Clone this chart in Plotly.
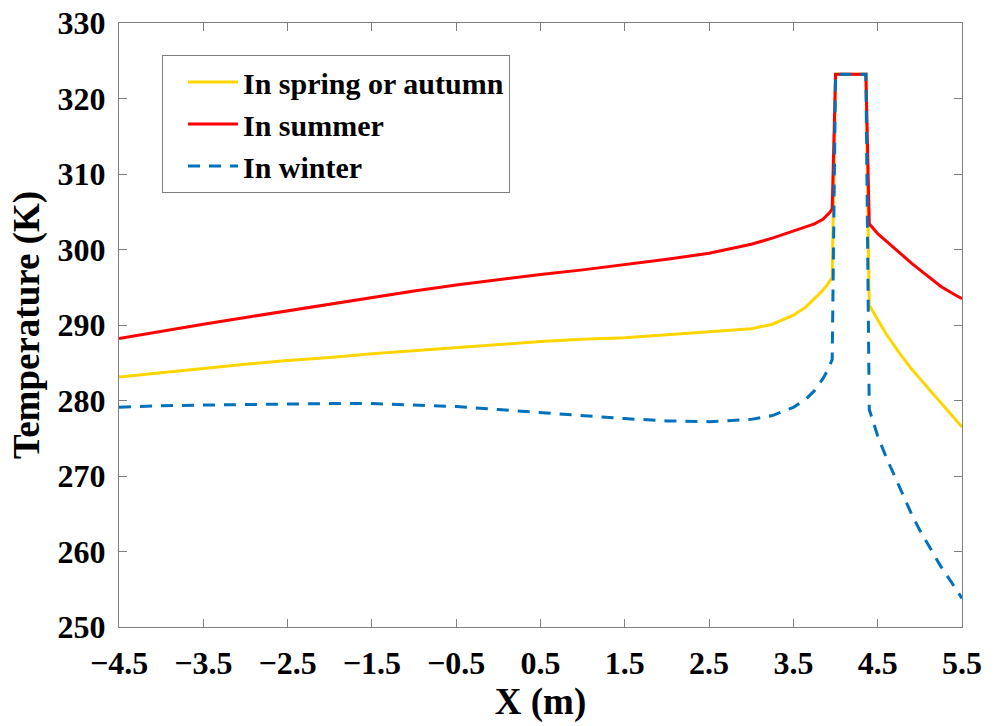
import plotly.graph_objects as go

# Position along the section (m)
x_m = [-4.5, -4.0, -3.5, -3.0, -2.5, -2.0, -1.5, -1.0, -0.5, 0.0, 0.5, 1.0, 1.5,
       2.0, 2.5, 3.0, 3.25, 3.5, 3.65, 3.75, 3.85, 3.9, 3.93, 3.96, 4.0, 4.36,
       4.40, 4.5, 4.6, 4.75, 4.9, 5.0, 5.1, 5.25, 5.4, 5.5]

# Temperature profiles (K)
t_spring_autumn = [283.1, 283.7, 284.2, 284.8, 285.3, 285.7, 286.2, 286.6, 287.1,
                   287.5, 287.8, 288.1, 288.3, 288.7, 289.1, 289.5, 290.1, 291.3,
                   292.4, 293.5, 294.6, 295.3, 295.8, 296.3, 323.2, 323.2, 292.6,
                   290.6, 288.8, 286.4, 284.2, 282.9, 281.6, 279.6, 277.8, 276.5]
t_summer = [288.2, 289.2, 290.1, 291.0, 291.9, 292.8, 293.6, 294.5, 295.3, 296.0,
            296.7, 297.3, 298.0, 298.7, 299.5, 300.7, 301.5, 302.4, 303.0, 303.4,
            304.0, 304.5, 304.9, 305.4, 323.2, 323.2, 303.4, 302.1, 301.1, 299.6,
            298.2, 297.3, 296.4, 295.1, 294.1, 293.5]
t_winter = [279.1, 279.3, 279.4, 279.5, 279.6, 279.6, 279.6, 279.4, 279.2, 278.8,
            278.4, 278.0, 277.6, 277.3, 277.2, 277.5, 278.0, 279.1, 280.2, 281.3,
            282.9, 283.9, 284.6, 285.4, 323.2, 323.2, 278.8, 275.3, 272.5, 268.7,
            265.0, 262.8, 260.8, 258.0, 255.5, 253.8]

x_ticks = [-4.5, -3.5, -2.5, -1.5, -0.5, 0.5, 1.5, 2.5, 3.5, 4.5, 5.5]
y_ticks = [250, 260, 270, 280, 290, 300, 310, 320, 330]

FONT = "Liberation Serif"

fig = go.Figure()
fig.add_trace(go.Scatter(x=x_m, y=t_spring_autumn, mode="lines", name="In spring or autumn",
                         line=dict(color="#FFD500", width=3)))
fig.add_trace(go.Scatter(x=x_m, y=t_summer, mode="lines", name="In summer",
                         line=dict(color="#FF0000", width=3)))
fig.add_trace(go.Scatter(x=x_m, y=t_winter, mode="lines", name="In winter",
                         line=dict(color="#0072BD", width=3, dash="12px,9px")))

axis_common = dict(
    showgrid=False, zeroline=False, showline=True, linecolor="#7f7f7f", linewidth=1,
    mirror="ticks", ticks="inside", ticklen=8, tickcolor="#7f7f7f", tickwidth=1,
    automargin=False,
    tickfont=dict(family=FONT, size=32, color="black", weight="bold"),
)

fig.update_layout(
    width=995, height=726,
    margin=dict(l=119, r=33, t=23, b=99),
    paper_bgcolor="white", plot_bgcolor="white",
    showlegend=True,
    legend=dict(
        x=0.051, y=0.947, xanchor="left", yanchor="top",
        bgcolor="white", bordercolor="#7f7f7f", borderwidth=1,
        font=dict(family=FONT, size=30, color="black", weight="bold"),
        itemwidth=50, indentation=20, tracegroupgap=0,
    ),
    xaxis=dict(
        range=[-4.5, 5.5], tickvals=x_ticks, ticklabelstandoff=8,
        title=dict(text="X (m)", standoff=2,
                   font=dict(family=FONT, size=37, color="black", weight="bold")),
        **axis_common,
    ),
    yaxis=dict(
        range=[250, 330], tickvals=y_ticks, ticklabelstandoff=6,
        title=dict(text="Temperature (K)", standoff=6,
                   font=dict(family=FONT, size=37, color="black", weight="bold")),
        **axis_common,
    ),
)

fig.write_html("out.html")
